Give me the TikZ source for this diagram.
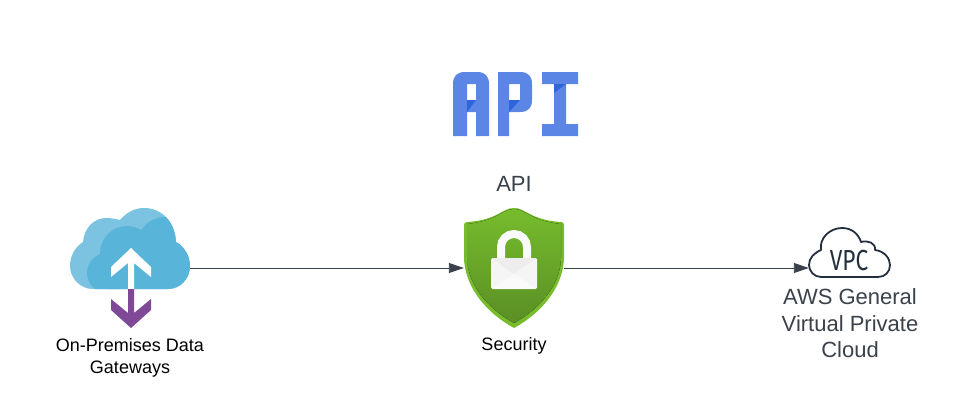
\documentclass[tikz,border=0pt]{standalone}
\usepackage{fontspec}
\setmainfont{Liberation Sans}
\newfontfamily\vpcfont{Fira Sans}
\usetikzlibrary{arrows.meta}
\definecolor{inkgrey}{HTML}{3A414A}
\definecolor{vpcnavy}{HTML}{232F3E}
\definecolor{logoblue}{HTML}{5B86E5}
\definecolor{logodark}{HTML}{2F65DC}
\definecolor{cloudlight}{HTML}{7CC3E2}
\definecolor{clouddark}{HTML}{59B4D9}
\definecolor{arrowpurple}{HTML}{804998}
\definecolor{shieldrim}{HTML}{76BC2D}
\definecolor{shieldlow}{HTML}{5A8F25}
\tikzset{
    iconbox/.style={inner sep=0pt,minimum height=60pt},
    flow/.style={-{Triangle[length=15pt,width=10pt]},color=inkgrey,line width=0.9pt},
    smalllabel/.style={align=center,text=black,font=\fontsize{18}{22}\selectfont},
    biglabel/.style={align=center,text=inkgrey,font=\fontsize{22}{26.5}\selectfont}
}
\begin{document}
\begin{tikzpicture}[x=1pt,y=-1pt]
    \useasboundingbox (0,0) rectangle (960,412);
    % logo
    \fill[logoblue,even odd rule] (453,136) -- (453,84) .. controls (453,76) and (457,72) .. (465,72) -- (477,72)
        .. controls (485,72) and (489,76) .. (489,84) -- (489,136) -- (476,136) -- (476,112) -- (467,112) -- (467,136) -- cycle
        (467,84) rectangle (476,100);
    \fill[logodark] (467,100) -- (476,100) -- (467,112) -- cycle;
    \fill[logoblue,even odd rule] (498,136) -- (498,72) -- (520,72) .. controls (528,72) and (532,76) .. (532,84) -- (532,100)
        .. controls (532,108) and (528,112) .. (520,112) -- (509,112) -- (509,136) -- cycle
        (509,84) rectangle (520,100);
    \fill[logodark] (509,100) -- (520,100) -- (509,112) -- cycle;
    \fill[logoblue] (542,72) -- (578,72) -- (578,84) -- (566,84) -- (566,124) -- (578,124) -- (578,136) -- (542,136)
        -- (542,124) -- (554,124) -- (554,84) -- (542,84) -- cycle;
    \fill[logodark] (554,84) -- (566,84) -- (554,93) -- cycle;
    \node[biglabel] (apilabel) at (514,184) {API};
    % on-premises cloud
    \begin{scope}
        \path[clip] (93,289) .. controls (80,289) and (70,278) .. (70,266) .. controls (70,256) and (75,247) .. (83,242)
            .. controls (84,228) and (94,218) .. (106,218) .. controls (111,218) and (116,219) .. (120,220)
            .. controls (126,213) and (134,208) .. (144,208) .. controls (162,208) and (175,222) .. (176,242)
            .. controls (184,246) and (190,256) .. (190,266) .. controls (190,279) and (180,289) .. (168,289) -- cycle;
        \fill[cloudlight] (60,200) rectangle (200,300);
        \fill[clouddark] (127,253) circle (27);
        \fill[clouddark] (107,273) circle (20);
        \fill[clouddark] (165,245) circle (28);
        \fill[clouddark] (127,255) rectangle (200,300);
        \fill[clouddark] (108,273) rectangle (130,300);
    \end{scope}
    \fill[white] (131,248) -- (151,267) -- (151,277) -- (134,263) -- (134,289) -- (128,289) -- (128,263) -- (111,277) -- (111,267) -- cycle;
    \fill[arrowpurple] (131,328) -- (151,310) -- (151,299) -- (134,313) -- (134,289) -- (128,289) -- (128,313) -- (111,299) -- (111,310) -- cycle;
    \node[iconbox,minimum width=120pt] (cloudicon) at (130,268) {};
    \node[smalllabel] (gatewaylabel) at (130,358) {On-Premises Data\\Gateways};
    % shield
    \fill[shieldrim] (514,208) .. controls (502,208) and (498,220) .. (467,222) .. controls (465,222) and (464,223) .. (464,225)
        -- (464,258) .. controls (465,290) and (490,315) .. (514,328) .. controls (538,315) and (563,290) .. (564,258)
        -- (564,225) .. controls (564,223) and (563,222) .. (561,222) .. controls (530,220) and (526,208) .. (514,208) -- cycle;
    \fill[top color=shieldrim,bottom color=shieldlow] (514,209) .. controls (502,209) and (498,221) .. (467,224)
        -- (467,258) .. controls (468,288) and (492,311) .. (514,323) .. controls (536,311) and (560,288) .. (561,258)
        -- (561,224) .. controls (530,221) and (526,209) .. (514,209) -- cycle;
    \draw[line width=8pt,color=white!98!black] (501,260) -- (501,247) arc[start angle=180,end angle=0,radius=13pt] -- (527,260);
    \fill[rounded corners=1.5pt,color=white!96!black] (491,258) rectangle (537,289);
    \fill[white!93!black] (491.5,258) -- (536.5,258) -- (514,274) -- cycle;
    \fill[white!98!black] (492,288.5) -- (514,274) -- (536,288.5) -- cycle;
    \node[iconbox,minimum width=100pt] (shieldicon) at (514,268) {};
    \node[smalllabel] (securitylabel) at (514,346) {Security};
    % vpc cloud
    \draw[vpcnavy,line width=1.8pt,line join=round] (821,277) .. controls (814,277) and (809,271) .. (809,265)
        .. controls (809,258) and (814,253) .. (821,250) .. controls (819,238) and (830,228) .. (842,228)
        .. controls (851,228) and (858,233) .. (861,242) .. controls (868,240) and (876,243) .. (875,250)
        .. controls (884,251) and (890,258) .. (890,265) .. controls (890,272) and (885,277) .. (878,277) -- cycle;
    \node[inner sep=0pt,text=vpcnavy,font=\vpcfont\fontsize{29}{29}\selectfont] (vpctext) at (849,261) {\scalebox{0.78}[1]{VPC}};
    \node[iconbox,minimum width=81pt] (vpcicon) at (849.5,268) {};
    \node[biglabel] (vpclabel) at (850,323.5) {AWS General\\Virtual Private\\Cloud};
    % connectors
    \draw[flow] (cloudicon) -- (shieldicon);
    \draw[flow] (shieldicon) -- (vpcicon);
\end{tikzpicture}
\end{document}
